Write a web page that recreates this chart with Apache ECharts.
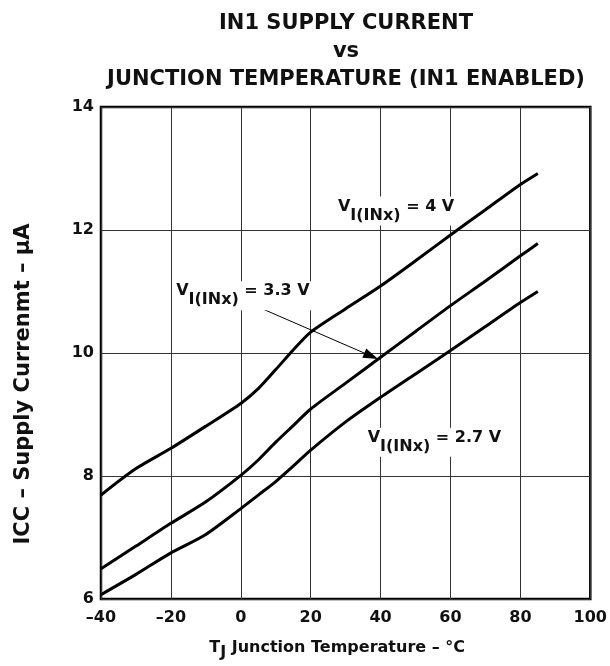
<!DOCTYPE html>
<html>
<head>
<meta charset="utf-8">
<script src="https://cdn.jsdelivr.net/npm/echarts@6/dist/echarts.min.js"></script>
<style>
  html, body { margin: 0; padding: 0; background: #fff; }
  #chart { width: 610px; height: 666px; }
</style>
</head>
<body>
<div id="chart"></div>
<script>
// Junction temperature (°C) sample points
var tempC = [-40, -30, -20, -10, 0, 5, 10, 15, 20, 30, 40, 50, 60, 70, 80, 85];
// Supply current (µA) for each input voltage
var icc4V  = [7.69, 8.12, 8.45, 8.81, 9.18, 9.42, 9.73, 10.05, 10.34, 10.72, 11.09, 11.50, 11.92, 12.33, 12.74, 12.92];
var icc33V = [6.49, 6.86, 7.23, 7.58, 8.01, 8.26, 8.55, 8.82, 9.09, 9.51, 9.93, 10.35, 10.77, 11.17, 11.58, 11.78];
var icc27V = [6.07, 6.40, 6.75, 7.05, 7.47, 7.69, 7.91, 8.16, 8.42, 8.88, 9.28, 9.66, 10.04, 10.43, 10.82, 11.00];
// Axis tick labels
var xTickLabels = ['–40', '–20', '0', '20', '40', '60', '80', '100'];
var yTickLabels = ['6', '8', '10', '12', '14'];

var FONT = 'DejaVu Sans';

function pairs(ys) {
  return tempC.map(function (t, i) { return [t, ys[i]]; });
}

function curve(name, ys, extra) {
  var s = {
    name: name,
    type: 'line',
    data: pairs(ys),
    smooth: 0.25,
    showSymbol: false,
    symbol: 'none',
    lineStyle: { color: '#000', width: 3 },
    z: 3,
    silent: true
  };
  if (extra) { for (var k in extra) s[k] = extra[k]; }
  return s;
}

var chart = echarts.init(document.getElementById('chart'), null, { renderer: 'canvas' });

var option = {
  animation: false,
  backgroundColor: '#fff',
  title: {
    text: 'IN1 SUPPLY CURRENT\nvs\nJUNCTION TEMPERATURE (IN1 ENABLED)',
    left: 341,
    top: 5,
    textAlign: 'center',
    textStyle: {
      fontFamily: FONT, fontWeight: 'bold', fontSize: 21, lineHeight: 28, color: '#111'
    }
  },
  grid: {
    left: 101, right: 16, top: 107, bottom: 65,
    show: true, borderColor: '#000', borderWidth: 2.5, backgroundColor: 'transparent'
  },
  xAxis: {
    type: 'value', min: -40, max: 100, interval: 20,
    axisLine: { show: false },
    axisTick: { show: false },
    splitLine: { show: true, lineStyle: { color: '#333', width: 1 } },
    axisLabel: {
      margin: 11,
      fontFamily: FONT, fontWeight: 'bold', fontSize: 16, color: '#111',
      formatter: function (v, i) { return xTickLabels[i]; }
    },
    name: '{t|T}{j|J}{t| Junction Temperature – °C}',
    nameLocation: 'middle',
    nameGap: 41,
    nameTextStyle: {
      padding: [0, 17, 0, 0],
      rich: {
        t: { fontFamily: FONT, fontWeight: 'bold', fontSize: 16, color: '#111', verticalAlign: 'top' },
        j: { fontFamily: FONT, fontWeight: 'bold', fontSize: 16, color: '#111', verticalAlign: 'top', padding: [5, 0, 0, 0] }
      }
    }
  },
  yAxis: {
    type: 'value', min: 6, max: 14, interval: 2,
    axisLine: { show: false },
    axisTick: { show: false },
    splitLine: { show: true, lineStyle: { color: '#333', width: 1 } },
    axisLabel: {
      margin: 7,
      fontFamily: FONT, fontWeight: 'bold', fontSize: 16, color: '#111',
      formatter: function (v, i) { return yTickLabels[i]; }
    },
    name: 'ICC – Supply Currenmt – µA',
    nameLocation: 'middle',
    nameGap: 67,
    nameTextStyle: {
      fontFamily: FONT, fontWeight: 'bold', fontSize: 21, color: '#111',
      padding: [0, 62, 0, 0]
    }
  },
  series: [
    curve('4 V', icc4V),
    curve('3.3 V', icc33V, {
      markLine: {
        silent: true,
        animation: false,
        symbol: ['none', 'triangle'],
        symbolSize: [10, 15],
        lineStyle: { color: '#000', width: 1, type: 'solid' },
        label: { show: false },
        data: [[{ coord: [6.5, 10.71] }, { coord: [37.3, 9.95] }]]
      }
    }),
    curve('2.7 V', icc27V)
  ]
};

chart.setOption(option);

// Curve annotations, anchored in data coordinates (left edge, cap centre of "V")
var notes = [
  { at: [27.8, 12.40], rest: ' = 4 V' },
  { at: [-18.5, 11.02], rest: ' = 3.3 V' },
  { at: [36.3, 8.64], rest: ' = 2.7 V' }
];

var txt = { fontFamily: FONT, fontWeight: 'bold', fontSize: 16, fill: '#111', verticalAlign: 'top' };
var graphics = notes.map(function (n) {
  var p = chart.convertToPixel({ gridIndex: 0 }, n.at);
  return {
    type: 'text',
    z: 10,
    x: p[0] - 4,
    y: p[1] - 9,
    style: {
      text: '{v|V}{s|I(INx)}{v|' + n.rest + '}',
      backgroundColor: '#fff',
      padding: [2, 4, 2, 4],
      rich: {
        v: txt,
        s: Object.assign({}, txt, { padding: [9, 0, 0, 0] })
      }
    }
  };
});

chart.setOption({ graphic: graphics });
</script>
</body>
</html>
